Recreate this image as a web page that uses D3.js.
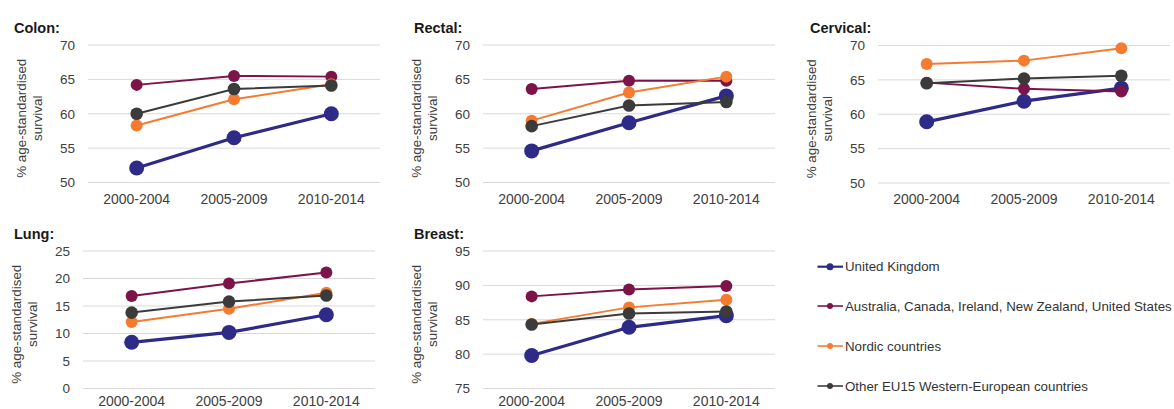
<!DOCTYPE html>
<html><head><meta charset="utf-8">
<script src="https://cdn.jsdelivr.net/npm/d3@7"></script>
<style>
body{margin:0;background:#fff;}
svg{display:block;font-family:"Liberation Sans",Arial,sans-serif;}
</style></head>
<body><svg id="c" width="1174" height="409"></svg>
<script>
const periods = ["2000-2004","2005-2009","2010-2014"];
const seriesNames = ["United Kingdom","Australia, Canada, Ireland, New Zealand, United States","Nordic countries","Other EU15 Western-European countries"];
const seriesColors = ["#2e2a87","#7c1349","#f47b30","#3b3b3b"];

const colonUK = [52.1,56.5,60.0];
const colonAUS = [64.2,65.5,65.4];
const colonNordic = [58.3,62.1,64.3];
const colonOther = [60.0,63.6,64.1];

const rectalUK = [54.6,58.7,62.6];
const rectalAUS = [63.6,64.8,64.8];
const rectalNordic = [59.0,63.1,65.4];
const rectalOther = [58.2,61.2,61.7];

const cervicalUK = [58.9,61.9,63.8];
const cervicalAUS = [64.6,63.7,63.3];
const cervicalNordic = [67.3,67.8,69.6];
const cervicalOther = [64.5,65.2,65.6];

const lungUK = [8.4,10.2,13.4];
const lungAUS = [16.8,19.1,21.1];
const lungNordic = [12.1,14.5,17.4];
const lungOther = [13.8,15.8,16.9];

const breastUK = [79.8,83.9,85.6];
const breastAUS = [88.4,89.4,89.9];
const breastNordic = [84.4,86.8,87.9];
const breastOther = [84.3,85.9,86.2];

const colonTicks = [50,55,60,65,70];
const rectalTicks = [50,55,60,65,70];
const cervicalTicks = [50,55,60,65,70];
const lungTicks = [0,5,10,15,20,25];
const breastTicks = [75,80,85,90,95];

const panels = [
  {title:"Colon:", data:[colonUK,colonAUS,colonNordic,colonOther], ticks:colonTicks, x0:88, x1:380, yTop:45, yBot:182.5, tx:14, ty:32.5, xl:204},
  {title:"Rectal:", data:[rectalUK,rectalAUS,rectalNordic,rectalOther], ticks:rectalTicks, x0:483, x1:775, yTop:45, yBot:182.5, tx:414, ty:32.5, xl:204},
  {title:"Cervical:", data:[cervicalUK,cervicalAUS,cervicalNordic,cervicalOther], ticks:cervicalTicks, x0:878, x1:1170, yTop:45.5, yBot:183, tx:810, ty:32.5, xl:204},
  {title:"Lung:", data:[lungUK,lungAUS,lungNordic,lungOther], ticks:lungTicks, x0:83, x1:375, yTop:251, yBot:388.5, tx:14, ty:239, xl:406},
  {title:"Breast:", data:[breastUK,breastAUS,breastNordic,breastOther], ticks:breastTicks, x0:483, x1:775, yTop:251, yBot:388.5, tx:414, ty:239, xl:406}
];

const lineW = [3.2,2,2,2];
const rad = [7.5,6,6,6.3];

const svg = d3.select("#c");

panels.forEach(p => {
  const g = svg.append("g");
  const x = d3.scalePoint().domain(periods).range([p.x0,p.x1]).padding(0.5);
  const y = d3.scaleLinear().domain(d3.extent(p.ticks)).range([p.yBot,p.yTop]);

  g.append("g").selectAll("line").data(p.ticks).join("line")
    .attr("x1",p.x0).attr("x2",p.x1)
    .attr("y1",d=>y(d)).attr("y2",d=>y(d))
    .attr("stroke","#d9d9d9").attr("stroke-width",1);

  const ya = g.append("g").attr("transform",`translate(${p.x0},0)`)
    .call(d3.axisLeft(y).tickValues(p.ticks).tickSize(0).tickPadding(13));
  ya.select(".domain").remove();
  ya.selectAll("text").attr("font-size","13.5px").attr("fill","#404040").attr("font-family","Liberation Sans, Arial, sans-serif");

  const xa = g.append("g").attr("transform",`translate(0,${p.xl})`);
  xa.selectAll("text").data(periods).join("text")
    .attr("x",d=>x(d)).attr("y",0).attr("text-anchor","middle")
    .attr("font-size","14px").attr("fill","#404040").text(d=>d);

  g.append("text").attr("x",p.tx).attr("y",p.ty).attr("font-size","14.5px")
    .attr("font-weight","bold").attr("fill","#1a1a1a").text(p.title);

  const cy = (p.yTop+p.yBot)/2 + 4.5;
  const yt = g.append("text").attr("transform",`translate(${p.x0-67},${cy}) rotate(-90)`)
    .attr("text-anchor","middle").attr("font-size","13.4px").attr("fill","#404040");
  yt.append("tspan").attr("x",0).attr("dy","0.35em").text("% age-standardised");
  yt.append("tspan").attr("x",0).attr("dy","16").text("survival");

  const line = d3.line().x((d,i)=>x(periods[i])).y(d=>y(d));
  p.data.forEach((vals,si) => {
    g.append("path").datum(vals).attr("d",line).attr("fill","none")
      .attr("stroke",seriesColors[si]).attr("stroke-width",lineW[si]);
    g.append("g").selectAll("circle").data(vals).join("circle")
      .attr("cx",(d,i)=>x(periods[i])).attr("cy",d=>y(d)).attr("r",rad[si])
      .attr("fill",seriesColors[si]);
  });
});

const legY = [266.7,306,346,386];
const lg = svg.append("g");
seriesNames.forEach((name,i) => {
  lg.append("line").attr("x1",817.5).attr("x2",843).attr("y1",legY[i]).attr("y2",legY[i])
    .attr("stroke",seriesColors[i]).attr("stroke-width",i===0?2.2:1.6);
  lg.append("circle").attr("cx",830).attr("cy",legY[i]).attr("r",i===0?3.5:3).attr("fill",seriesColors[i]);
  lg.append("text").attr("x",845).attr("y",legY[i]).attr("dy","0.35em")
    .attr("font-size","13.3px").attr("fill","#333").text(name);
});
</script></body></html>
